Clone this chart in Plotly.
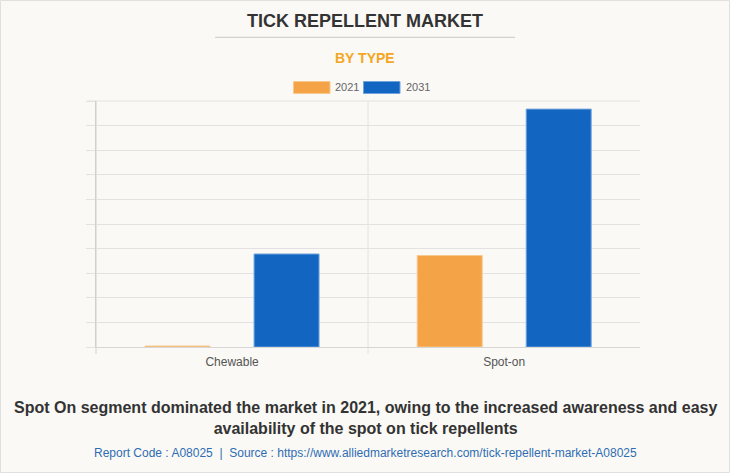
import plotly.graph_objects as go

categories = ["Chewable", "Spot-on"]
years = ["2021", "2031"]
values_2021 = [0.04, 3.72]
values_2031 = [3.78, 9.67]
colors = ["#f4a446", "#1266c2"]
edge_colors = ["#f8c88e", "#6fa3dc"]

W, H = 730, 473
L, R, T, B = 96, 640, 101, 347  # plot area in pixels


def px(x):
    return (x - L) / (R - L)


def py(y):
    return (B - y) / (B - T)


fig = go.Figure()
for name, vals, c, ec in zip(years, [values_2021, values_2031], colors, edge_colors):
    fig.add_trace(go.Bar(
        x=categories, y=vals, name=name,
        marker=dict(color=c, line=dict(color=ec, width=1)),
        showlegend=False, hoverinfo="x+y+name",
    ))

font_family = "Liberation Sans, Arial, sans-serif"
grid = "#e2e2e2"

shapes = [
    # outer border
    dict(type="rect", xref="paper", yref="paper", x0=px(0.5), x1=px(W - 0.5),
         y0=py(H - 0.5), y1=py(0.5), line=dict(color="#e0e0e0", width=1), layer="below"),
    # title underline
    dict(type="line", xref="paper", yref="paper", x0=px(215), x1=px(515),
         y0=py(37.3), y1=py(37.3), line=dict(color="#c8c8c8", width=1)),
    # category separator
    dict(type="line", xref="paper", yref="paper", x0=0.5, x1=0.5,
         y0=py(354), y1=1, line=dict(color=grid, width=1), layer="below"),
    # left axis extension below baseline
    dict(type="line", xref="paper", yref="paper", x0=0, x1=0,
         y0=py(354), y1=1, line=dict(color="#d0d0d0", width=1), layer="below"),
    # top gridline
    dict(type="line", xref="paper", yref="paper", x0=px(87), x1=1,
         y0=1, y1=1, line=dict(color=grid, width=1), layer="below"),
]

annotations = [
    dict(text="<b>TICK REPELLENT MARKET</b>", x=px(365), y=py(21), xref="paper", yref="paper",
         showarrow=False, xanchor="center", yanchor="middle",
         font=dict(family=font_family, size=18, color="#333333")),
    dict(text="<b>BY TYPE</b>", x=px(365), y=py(58.5), xref="paper", yref="paper",
         showarrow=False, xanchor="center", yanchor="middle",
         font=dict(family=font_family, size=14, color="#f5a623")),
    dict(text="<b>Spot On segment dominated the market in 2021, owing to the increased awareness and easy<br>availability of the spot on tick repellents</b>",
         x=px(365), y=py(418), xref="paper", yref="paper",
         showarrow=False, xanchor="center", yanchor="middle", align="center",
         font=dict(family=font_family, size=16, color="#333333")),
    dict(text="Report Code : A08025  |  Source : https://www.alliedmarketresearch.com/tick-repellent-market-A08025",
         x=px(365), y=py(453), xref="paper", yref="paper",
         showarrow=False, xanchor="center", yanchor="middle",
         font=dict(family=font_family, size=12, color="#2e6db4")),
]

# custom legend
legend_pos = [(293.5, 330, 333), (363.5, 400, 404)]
for (x0, x1, tx), name, c, ec in zip(legend_pos, years, colors, edge_colors):
    shapes.append(dict(type="rect", xref="paper", yref="paper", x0=px(x0), x1=px(x1),
                       y0=py(93.5), y1=py(81.5), fillcolor=c, line=dict(color=ec, width=1)))
    annotations.append(dict(text=name, x=px(tx), y=py(87.5), xref="paper", yref="paper",
                            showarrow=False, xanchor="left", yanchor="middle",
                            font=dict(family=font_family, size=11, color="#666666")))

fig.update_layout(
    width=W, height=H,
    margin=dict(l=L, r=W - R, t=T, b=H - B),
    paper_bgcolor="#faf9f5", plot_bgcolor="#faf9f5",
    barmode="group", bargap=0.199, bargroupgap=0.404,
    shapes=shapes, annotations=annotations,
    font=dict(family=font_family),
    showlegend=False,
)
fig.update_xaxes(
    range=[-0.5, 1.499], showgrid=False, showline=True, linecolor="#d6d6d6", linewidth=1,
    ticks="", ticklabelstandoff=4,
    tickfont=dict(family=font_family, size=12, color="#555555"), fixedrange=True,
)
fig.update_yaxes(
    range=[0, 10], dtick=1, showgrid=True, gridcolor=grid, gridwidth=1,
    showline=True, linecolor="#d0d0d0", linewidth=1,
    ticks="outside", ticklen=9, tickcolor=grid, showticklabels=False, zeroline=False,
    fixedrange=True,
)

fig.write_html(
    "out.html",
    config={"displayModeBar": False},
    post_script="document.body.style.margin='0';document.body.style.overflow='hidden';",
)
